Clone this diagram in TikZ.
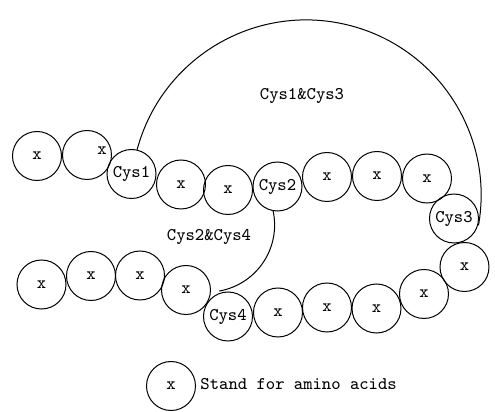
\documentclass[tikz,border=0pt]{standalone}
\usepackage{fontspec}
\tikzset{
	acid/.style={draw, circle, minimum size=24.5pt, inner sep=0pt, font=\ttfamily\fontsize{8.9pt}{10pt}\selectfont},
	note/.style={font=\ttfamily\fontsize{8.9pt}{10pt}\selectfont, inner sep=0pt}
}
\begin{document}
\begin{tikzpicture}[x=0.5pt, y=0.5pt, line width=0.5pt]
		\useasboundingbox (0,0) rectangle (495,-412);
		
		% Upper chain
		\node[acid] (a1) at (37,-156) {x};
		\node[acid] (a2) at (87,-155) {};
		\node[note] (a2x) at (102,-151) {x};
		\node[acid] (cys1) at (131.5,-174) {Cys1};
		\node[acid] (a4) at (181,-184.5) {x};
		\node[acid] (a5) at (228,-190) {x};
		\node[acid] (cys2) at (277.5,-186.5) {Cys2};
		\node[acid] (a7) at (327,-177) {x};
		\node[acid] (a8) at (377,-176) {x};
		\node[acid] (a9) at (427,-178.5) {x};
		\node[acid] (cys3) at (454,-218.5) {Cys3};
		
		% Lower chain
		\node[acid] (a11) at (464.5,-267) {x};
		\node[acid] (a12) at (424,-294) {x};
		\node[acid] (a13) at (376.5,-308.5) {x};
		\node[acid] (a14) at (327,-307.5) {x};
		\node[acid] (a15) at (278,-312.5) {x};
		\node[acid] (cys4) at (228,-316.5) {Cys4};
		\node[acid] (a17) at (186,-290) {x};
		\node[acid] (a18) at (140,-275.5) {x};
		\node[acid] (a19) at (91,-276) {x};
		\node[acid] (a20) at (41.5,-284.5) {x};
		
		% Disulfide bonds
		\draw (cys1.77) arc[start angle=165, end angle=-10, radius=175];
		\node[note] (bond13) at (302,-96) {Cys1\&Cys3};
		\draw (cys2.-100) arc[start angle=12, end angle=-80, radius=67];
		\node[note] (bond24) at (209,-237) {Cys2\&Cys4};
		
		% Legend
		\node[acid] (key) at (171,-386) {x};
		\node[note, anchor=west] (keytext) at (200,-384) {Stand for amino acids};
	\end{tikzpicture}
\end{document}
